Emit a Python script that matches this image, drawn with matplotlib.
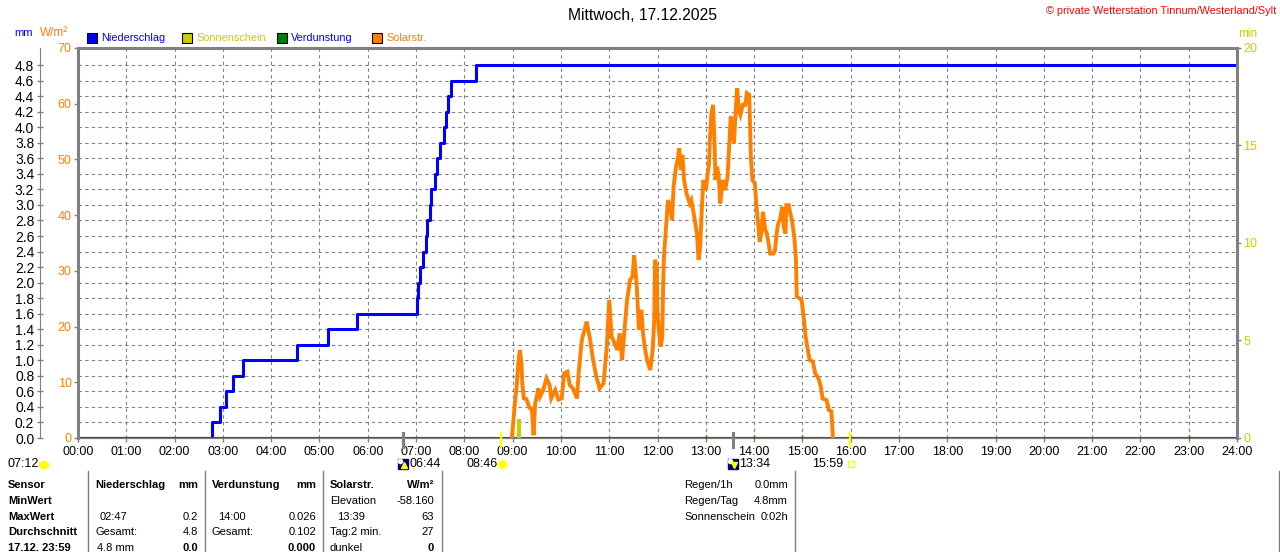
import matplotlib
matplotlib.use('Agg')
import matplotlib.pyplot as plt
import matplotlib.transforms as mtransforms
from matplotlib.patches import Rectangle, Ellipse
from matplotlib.lines import Line2D

plt.rcParams['font.family'] = ['Liberation Sans', 'DejaVu Sans']

W, H = 1280, 552

BLUE = '#0000ff'
ORANGE = '#ff8000'
OLIVE = '#cccc00'
GREEN = '#008000'
GRAY = '#808080'

title = 'Mittwoch, 17.12.2025'
copyright_text = '\u00a9 private Wetterstation Tinnum/Westerland/Sylt'

hour_labels = ['%02d:00' % h for h in range(25)]
mm_ticks = [round(0.2 * i, 1) for i in range(25)]
wm2_ticks = [0, 10, 20, 30, 40, 50, 60, 70]
min_ticks = [0, 5, 10, 15, 20]

# Niederschlag (cumulative mm)
rain_times = ['00:00', '02:47', '02:56', '03:04', '03:13', '03:25', '04:32', '05:10',
              '05:47', '07:01', '07:03', '07:05', '07:09', '07:12', '07:14', '07:17',
              '07:19', '07:24', '07:26', '07:30', '07:35', '07:37', '07:40', '07:43',
              '08:14', '24:00']
rain_mm = [0.0, 0.2, 0.4, 0.6, 0.8, 1.0, 1.2, 1.4,
           1.6, 1.8, 2.0, 2.2, 2.4, 2.6, 2.8, 3.0,
           3.2, 3.4, 3.6, 3.8, 4.0, 4.2, 4.4, 4.6,
           4.8, 4.8]

# Solarstrahlung (W/m2)
solar_times = ['08:59', '09:01', '09:03', '09:05', '09:07', '09:09', '09:11', '09:12',
               '09:14', '09:17', '09:21', '09:24', '09:26', '09:28', '09:30', '09:32',
               '09:34', '09:38', '09:42', '09:46', '09:48', '09:53', '09:57', '10:01',
               '10:04', '10:08', '10:11', '10:15', '10:20', '10:22', '10:26', '10:32',
               '10:36', '10:40', '10:44', '10:48', '10:53', '10:57', '11:00', '11:03',
               '11:07', '11:10', '11:13', '11:16', '11:19', '11:22', '11:26', '11:29',
               '11:31', '11:34', '11:37', '11:40', '11:42', '11:44', '11:47', '11:51',
               '11:54', '11:56', '11:57', '11:59', '12:00', '12:02', '12:04', '12:06',
               '12:07', '12:08', '12:11', '12:13', '12:16', '12:18', '12:20', '12:23',
               '12:25', '12:27', '12:29', '12:31', '12:33', '12:36', '12:40', '12:42',
               '12:45', '12:49', '12:51', '12:53', '12:55', '12:57', '13:00', '13:02',
               '13:04', '13:05', '13:07', '13:09', '13:11', '13:12', '13:14', '13:16',
               '13:18', '13:21', '13:24', '13:27', '13:29', '13:31', '13:33', '13:35',
               '13:37', '13:39', '13:41', '13:43', '13:46', '13:49', '13:51', '13:54',
               '13:56', '13:58', '14:01', '14:03', '14:05', '14:07', '14:09', '14:11',
               '14:14', '14:16', '14:18', '14:20', '14:24', '14:26', '14:28', '14:30',
               '14:32', '14:35', '14:37', '14:39', '14:40', '14:43', '14:45', '14:47',
               '14:50', '14:52', '14:53', '14:56', '14:59', '15:02', '15:04', '15:06',
               '15:09', '15:13', '15:16', '15:20', '15:23', '15:25', '15:30', '15:33',
               '15:36', '15:37', '15:38']
solar_wm2 = [0.0, 3.2, 6.5, 9.2, 13.4, 15.8, 13.4, 9.8,
             7.1, 7.0, 5.4, 5.2, 0.5, 6.2, 7.4, 8.9,
             7.4, 8.6, 10.7, 9.5, 7.1, 8.6, 6.9, 7.1,
             11.6, 11.9, 9.5, 8.9, 7.1, 11.6, 17.6, 20.9,
             17.9, 14.0, 11.0, 8.9, 9.8, 16.4, 24.8, 18.2,
             16.9, 15.8, 18.8, 14.0, 19.4, 24.5, 28.4, 29.0,
             32.8, 27.8, 19.4, 23.0, 18.8, 16.4, 14.0, 12.2,
             15.8, 21.2, 32.0, 30.7, 22.4, 18.8, 16.4, 18.2,
             27.2, 32.5, 38.5, 42.7, 41.5, 39.1, 45.1, 48.7,
             49.9, 52.0, 48.1, 50.8, 46.3, 43.9, 42.1, 42.7,
             40.3, 36.7, 32.0, 34.3, 40.9, 46.3, 44.5, 46.9,
             49.3, 53.4, 58.3, 59.8, 52.3, 46.3, 48.7, 46.9,
             42.1, 46.3, 44.5, 46.9, 52.3, 57.7, 54.7, 52.9,
             58.3, 62.8, 58.9, 58.0, 59.8, 59.8, 61.9, 61.6,
             50.5, 46.3, 45.7, 41.5, 38.5, 35.2, 36.7, 40.6,
             37.3, 36.7, 34.9, 33.1, 33.1, 33.7, 36.7, 38.5,
             39.1, 41.5, 37.9, 36.7, 41.8, 41.8, 40.3, 39.1,
             36.1, 32.0, 25.4, 25.1, 24.8, 21.2, 18.2, 16.4,
             14.0, 13.7, 11.6, 10.7, 9.2, 7.1, 6.8, 5.0,
             4.8, 2.6, 0.0]

# Sonnenschein (min per interval)
sun_times = ['09:05']
sun_min = [1.0]

# Verdunstung (mm)
evap_times = ['00:00', '13:00', '14:00', '15:00', '23:00', '24:00']
evap_mm = [0.0, 0.024, 0.026, 0.026, 0.026, 0.0]

moon_rise = '06:44'
moon_set = '13:34'
sun_rise = '08:46'
sun_set = '15:59'
day_length = '07:12'

table_rows = ['Sensor', 'MinWert', 'MaxWert', 'Durchschnitt', '17.12. 23:59']

TICK_FS = 9
TXT_FS = 8


def hours(s):
    h, m = s.split(':')
    return int(h) + int(m) / 60.0


def fx(x):
    return x / W


def fy(y):
    return 1 - y / H


fig = plt.figure(figsize=(W / 100, H / 100), dpi=100)
fig.patch.set_facecolor('white')

ax = fig.add_axes([fx(78), fy(438), 1159 / W, 390 / H])
ax_w = ax.twinx()
ax_min = ax.twinx()

# mm axis (primary, carries grid)
ax.set_xlim(0, 24)
ax.set_ylim(0, 5.02)
ax.set_xticks(range(25))
ax.set_xticklabels(hour_labels, fontsize=TICK_FS)
ax.set_yticks(mm_ticks)
ax.set_yticklabels(['%.1f' % v for v in mm_ticks], fontsize=TICK_FS, color=BLUE)
ax.tick_params(axis='y', direction='inout', length=5, width=1, color=GRAY, pad=1.5)
ax.tick_params(axis='x', direction='out', length=3, width=1, color=GRAY, pad=2.5)
ax.spines['left'].set_position(('outward', 27.5))
ax.spines['left'].set_color(GRAY)
ax.spines['left'].set_linewidth(0.8)
ax.spines['right'].set_visible(False)
ax.spines['top'].set_color(GRAY)
ax.spines['top'].set_linewidth(2.2)
ax.spines['bottom'].set_color(GRAY)
ax.spines['bottom'].set_linewidth(1.6)
ax.grid(True, color=GRAY, ls=(0, (3, 3)), lw=0.8)
ax.set_axisbelow(True)

# W/m2 axis on the left edge of the plot
ax_w.set_ylim(0, 70)
ax_w.yaxis.tick_left()
ax_w.set_yticks(wm2_ticks)
ax_w.set_yticklabels([str(v) for v in wm2_ticks], fontsize=TICK_FS, color=ORANGE)
ax_w.tick_params(axis='y', direction='out', length=3, width=1, color=GRAY, pad=1.5)
for side in ['right', 'top', 'bottom']:
    ax_w.spines[side].set_visible(False)
ax_w.spines['left'].set_visible(True)
ax_w.spines['left'].set_color(GRAY)
ax_w.spines['left'].set_linewidth(2.2)

# min axis on the right
ax_min.set_ylim(0, 20)
ax_min.set_yticks(min_ticks)
ax_min.set_yticklabels([str(v) for v in min_ticks], fontsize=TICK_FS, color=OLIVE)
ax_min.tick_params(axis='y', direction='out', length=3, width=1, color=GRAY, pad=1.5)
for side in ['left', 'top', 'bottom']:
    ax_min.spines[side].set_visible(False)
ax_min.spines['right'].set_color(GRAY)
ax_min.spines['right'].set_linewidth(2.2)

# data
ax.step([hours(t) for t in rain_times], rain_mm, where='post', color=BLUE, lw=2.2, zorder=3)
ax.plot([hours(t) for t in evap_times], [0] * len(evap_times), color=GREEN, lw=1.3, zorder=4)
ax.plot([hours(t) for t in evap_times[1:-1]], [0.012] * (len(evap_times) - 2),
        ls='none', marker='+', ms=3, mew=0.9, color=GREEN, zorder=4)
ax_w.plot([hours(t) for t in solar_times], solar_wm2, color=ORANGE, lw=2.8,
          solid_joinstyle='miter', zorder=3)
ax_min.bar([hours(t) for t in sun_times], sun_min, width=6 / 60.0, align='edge',
           color=OLIVE, zorder=2)

# sun / moon markers on the time axis
trans = mtransforms.blended_transform_factory(ax.transData, ax.transAxes)
for t, col, lw in [(moon_rise, GRAY, 2.2), (moon_set, GRAY, 2.2),
                   (sun_rise, '#ffff00', 1.6), (sun_set, '#ffff00', 1.6)]:
    ax.add_line(Line2D([hours(t)] * 2, [-0.023, 0.013], transform=trans,
                       color=col, lw=lw, clip_on=False, zorder=6))

ylab = (438 - 464) / 390.0


def off(dx, dy):
    return mtransforms.offset_copy(trans, fig=fig, x=dx, y=dy, units='dots')


for t, arrow in [(moon_rise, '^'), (moon_set, 'v')]:
    x = hours(t)
    ax.plot([x], [ylab], transform=trans, marker='s', ms=7.5, color='#000080',
            clip_on=False, ls='none')
    ax.plot([x], [ylab], transform=off(-3, 3), marker='o', ms=3, color='white',
            clip_on=False, ls='none')
    ax.plot([x], [ylab], transform=off(1, -1), marker=arrow, ms=4.5, color='#ffff00',
            clip_on=False, ls='none')
    ax.annotate(t, (x, ylab), xycoords=trans, xytext=(4.5, 0), textcoords='offset points',
                ha='left', va='center', fontsize=TICK_FS)

x = hours(sun_rise)
ax.plot([x], [ylab], transform=off(1, 0), marker=(8, 2, 0), ms=9, mew=0.8,
        color='#ffff80', clip_on=False, ls='none')
ax.plot([x], [ylab], transform=off(1, 0), marker='o', ms=5, color='#ffff00',
        clip_on=False, ls='none')
ax.annotate(sun_rise, (x, ylab), xycoords=trans, xytext=(-2.5, 0), textcoords='offset points',
            ha='right', va='center', fontsize=TICK_FS)

x = hours(sun_set)
ax.plot([x], [ylab], transform=off(1, 0), marker='s', ms=4, mfc='none', mec='#ffff00',
        mew=1, clip_on=False, ls='none')
ax.annotate(sun_set, (x, ylab), xycoords=trans, xytext=(-4.5, 0), textcoords='offset points',
            ha='right', va='center', fontsize=TICK_FS)

fig.text(fx(8), fy(464), day_length, ha='left', va='center', fontsize=TICK_FS)
fig.add_artist(Ellipse((fx(44), fy(465)), 9 / W, 7 / H, color='#ffff00'))

# titles and legend
fig.text(fx(643), fy(15), title, ha='center', va='center', fontsize=11.3)
fig.text(fx(1276), fy(11), copyright_text, ha='right', va='center', fontsize=7.8, color='red')

fig.text(fx(14), fy(33), 'mm', ha='left', va='center', fontsize=8, color=BLUE)
fig.text(fx(40), fy(33), 'W/m\u00b2', ha='left', va='center', fontsize=8.5, color=ORANGE)
fig.text(fx(1238), fy(34), 'min', ha='left', va='center', fontsize=8.5, color=OLIVE)

legend = [('Niederschlag', BLUE, BLUE, 87), ('Sonnenschein', OLIVE, OLIVE, 182),
          ('Verdunstung', GREEN, BLUE, 277), ('Solarstr.', ORANGE, ORANGE, 372)]
for name, box, txt, x0 in legend:
    fig.add_artist(Rectangle((fx(x0), fy(43)), 10 / W, 10 / H, facecolor=box,
                             edgecolor='black', lw=0.8))
    fig.text(fx(x0 + 14), fy(38), name, ha='left', va='center', fontsize=7.8, color=txt)

# table below the chart
row_y = [485, 501, 517, 532, 548]
for name, y in zip(table_rows, row_y):
    fig.text(fx(8), fy(y), name, ha='left', va='center', fontsize=TXT_FS, weight='bold')

cells = [
    (95, 485, 'Niederschlag', 'left', True), (198, 485, 'mm', 'right', True),
    (100, 517, '02:47', 'left', False), (198, 517, '0.2', 'right', False),
    (95, 532, 'Gesamt:', 'left', False), (198, 532, '4.8', 'right', False),
    (97, 548, '4.8 mm', 'left', False), (198, 548, '0.0', 'right', True),
    (212, 485, 'Verdunstung', 'left', True), (316, 485, 'mm', 'right', True),
    (218, 517, '14:00', 'left', False), (316, 517, '0.026', 'right', False),
    (212, 532, 'Gesamt:', 'left', False), (316, 532, '0.102', 'right', False),
    (316, 548, '0.000', 'right', True),
    (330, 485, 'Solarstr.', 'left', True), (434, 485, 'W/m\u00b2', 'right', True),
    (330, 501, 'Elevation', 'left', False), (434, 501, '-58.160', 'right', False),
    (337, 517, '13:39', 'left', False), (434, 517, '63', 'right', False),
    (330, 532, 'Tag:2 min.', 'left', False), (434, 532, '27', 'right', False),
    (330, 548, 'dunkel', 'left', False), (434, 548, '0', 'right', True),
    (684, 485, 'Regen/1h', 'left', False), (788, 485, '0.0mm', 'right', False),
    (684, 501, 'Regen/Tag', 'left', False), (788, 501, '4.8mm', 'right', False),
    (684, 517, 'Sonnenschein', 'left', False), (788, 517, '0:02h', 'right', False),
]
for x, y, s, ha, bold in cells:
    fig.text(fx(x), fy(y), s, ha=ha, va='center', fontsize=TXT_FS,
             weight='bold' if bold else 'normal')

for x in [88, 205, 323, 442, 795, 1279]:
    fig.add_artist(Line2D([fx(x), fx(x)], [fy(471), fy(552)], color=GRAY, lw=1))

fig.savefig('out.png', dpi=100)
